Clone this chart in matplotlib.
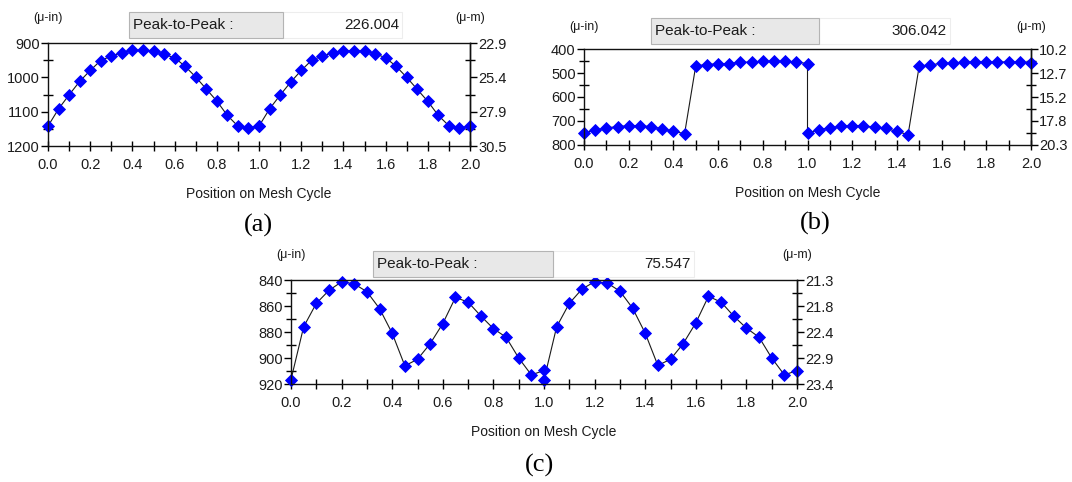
import matplotlib
matplotlib.use("Agg")
import matplotlib.pyplot as plt
from matplotlib.patches import Rectangle
from matplotlib.ticker import MultipleLocator, FixedLocator, FixedFormatter, FormatStrFormatter

plt.rcParams["font.family"] = ["Liberation Sans", "DejaVu Sans"]

W, H = 1072, 482
UM_PER_UIN = 0.0254
TXT = "#1c1c1c"

# Position on mesh cycle: two cycles, each sampled 0.00 .. 1.00 (both ends kept)
position = [0.00, 0.05, 0.10, 0.15, 0.20, 0.25, 0.30, 0.35, 0.40, 0.45, 0.50,
            0.55, 0.60, 0.65, 0.70, 0.75, 0.80, 0.85, 0.90, 0.95, 1.00,
            1.00, 1.05, 1.10, 1.15, 1.20, 1.25, 1.30, 1.35, 1.40, 1.45, 1.50,
            1.55, 1.60, 1.65, 1.70, 1.75, 1.80, 1.85, 1.90, 1.95, 2.00]

# Transmission error (micro-inch)
te_a = [1142, 1092, 1051, 1012, 980, 951, 938, 928, 921, 921, 924,
        933, 943, 968, 999, 1034, 1069, 1111, 1142, 1147, 1142,
        1142, 1092, 1052, 1014, 980, 950, 938, 929, 923, 923, 923,
        931, 943, 968, 1000, 1035, 1070, 1111, 1141, 1147, 1142]

te_b = [749, 739, 728, 724, 719, 719, 724, 732, 743, 753, 470,
        465, 461, 461, 455, 455, 452, 451, 452, 454, 461,
        750, 737, 728, 722, 719, 719, 726, 731, 743, 757, 470,
        467, 459, 459, 454, 454, 454, 454, 454, 454, 459]

te_c = [916.6, 876, 858, 848, 841.4, 843, 849, 862, 881, 906, 901,
        889, 873.5, 853.4, 857, 867.6, 877.4, 884, 900, 913, 909.6,
        916.8, 876, 858, 847, 841.3, 842.3, 848.6, 861.6, 880.9, 905.7, 901,
        889, 873, 852.6, 857, 867.8, 877, 884, 900, 913, 909.7]

peak_to_peak = ["226.004", "306.042", "75.547"]
captions = ["(a)", "(b)", "(c)"]

# y ranges (top, bottom) and tick steps in micro-inch
y_limits = [(900, 1200), (400, 800), (840, 920)]
y_major = [100, 100, 20]

# Panel geometry in pixels: left, top, right, bottom of the plot box
boxes = [(48, 43, 470, 146), (584, 49, 1031, 145), (291, 280, 797, 384)]
unit_y = [18, 27, 255]
# Peak-to-peak field: grey label box x0, x1, value box end, y0, y1
fields = [(129, 283, 402, 12, 38), (651, 819, 950, 18, 44), (373, 553, 694, 251, 277)]
caption_xy = [(258, 225), (815, 223), (540, 465)]

fig = plt.figure(figsize=(W / 100, H / 100), dpi=100)


def fx(x):
    return x / W


def fy(y):
    return 1 - y / H


def draw_panel(i, values):
    left, top, right, bottom = boxes[i]
    ax = fig.add_axes([fx(left), fy(bottom), (right - left) / W, (bottom - top) / H])
    ax.plot(position, values, color="#1a1a1a", lw=0.8, zorder=2,
            marker="D", ms=6.4, mfc="#0000ff", mec="#0000ff", mew=0.6,
            clip_on=False)
    y0, y1 = y_limits[i]
    ax.set_xlim(0, 2.0)
    ax.set_ylim(y1, y0)
    ax.xaxis.set_major_locator(MultipleLocator(0.2))
    ax.xaxis.set_minor_locator(MultipleLocator(0.1))
    ax.xaxis.set_major_formatter(FormatStrFormatter("%.1f"))
    step = y_major[i]
    ax.yaxis.set_major_locator(MultipleLocator(step))
    ax.yaxis.set_minor_locator(MultipleLocator(step / 2))
    for s in ax.spines.values():
        s.set_linewidth(1.0)
        s.set_color("#111111")
    ax.tick_params(axis="x", which="both", direction="inout", length=7,
                   width=1.0, labelsize=10.5, labelcolor=TXT, pad=5)
    ax.tick_params(axis="y", which="major", direction="out", length=5,
                   width=1.0, labelsize=10.5, labelcolor=TXT, pad=1)
    ax.tick_params(axis="y", which="minor", direction="inout", length=7, width=1.0)

    # metric scale on the right
    sec = ax.secondary_yaxis("right", functions=(lambda v: v * UM_PER_UIN,
                                                 lambda v: v / UM_PER_UIN))
    majors = list(range(y0, y1 + 1, step))
    minors = [m + step / 2 for m in majors[:-1]]
    sec.yaxis.set_major_locator(FixedLocator([m * UM_PER_UIN for m in majors]))
    sec.yaxis.set_major_formatter(FixedFormatter([f"{m * UM_PER_UIN:.1f}" for m in majors]))
    sec.yaxis.set_minor_locator(FixedLocator([m * UM_PER_UIN for m in minors]))
    sec.spines["right"].set_linewidth(1.0)
    sec.tick_params(axis="y", which="major", direction="out", length=5,
                    width=1.0, labelsize=10.5, labelcolor=TXT, pad=1)
    sec.tick_params(axis="y", which="minor", direction="inout", length=7, width=1.0)

    ax.set_xlabel("Position on Mesh Cycle", fontsize=10, color=TXT, labelpad=11)

    # unit captions
    fig.text(fx(left - 15), fy(unit_y[i]), "(\u03bc-in)", fontsize=9, color=TXT,
             ha="left", va="center")
    fig.text(fx(right - 15), fy(unit_y[i]), "(\u03bc-m)", fontsize=9, color=TXT,
             ha="left", va="center")

    # peak-to-peak field
    gx0, gx1, vx1, by0, by1 = fields[i]
    fig.add_artist(Rectangle((fx(gx1), fy(by1)), (vx1 - gx1) / W, (by1 - by0) / H,
                             transform=fig.transFigure, facecolor="white",
                             edgecolor="#ededed", lw=0.8))
    fig.add_artist(Rectangle((fx(gx0), fy(by1)), (gx1 - gx0) / W, (by1 - by0) / H,
                             transform=fig.transFigure, facecolor="#e8e8e8",
                             edgecolor="#b4b4b4", lw=0.8))
    fig.text(fx(gx0 + 4), fy((by0 + by1) / 2), "Peak-to-Peak :", fontsize=11,
             color=TXT, ha="left", va="center")
    fig.text(fx(vx1 - 3), fy((by0 + by1) / 2), peak_to_peak[i], fontsize=11,
             color=TXT, ha="right", va="center")

    cx, cy = caption_xy[i]
    fig.text(fx(cx), fy(cy), captions[i], fontsize=19, family="Liberation Serif",
             color="black", ha="center", va="center")


for k, series in enumerate([te_a, te_b, te_c]):
    draw_panel(k, series)

fig.savefig("out.png", dpi=100)
